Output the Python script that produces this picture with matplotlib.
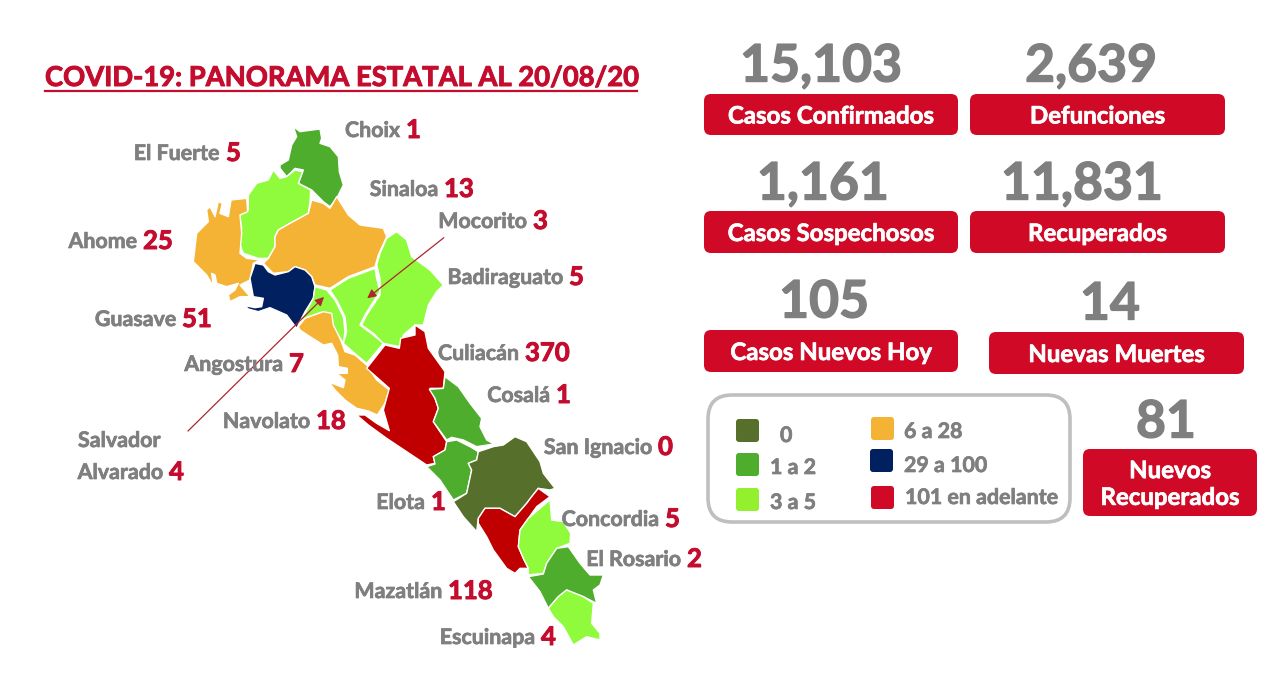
import matplotlib
matplotlib.use('Agg')
import matplotlib.pyplot as plt
import matplotlib.patheffects as pe
from matplotlib.patches import FancyBboxPatch, Polygon

plt.rcParams['font.family'] = ['Lato', 'DejaVu Sans']

GRAY = '#7f7f7f'
RED = '#c40d2e'
CARD = '#d00a26'

C_ZERO = '#566f2a'
C_LOW = '#4ead2d'
C_MID = '#8ffb3c'
C_ORANGE = '#f5b335'
C_NAVY = '#002060'
C_RED = '#c00000'

# municipal labels: name, cases, x where the name ends, y
names = ['Choix', 'El Fuerte', 'Sinaloa', 'Mocorito', 'Ahome', 'Badiraguato', 'Guasave',
         'Angostura', 'Culiacán', 'Cosalá', 'Navolato', 'Alvarado', 'San Ignacio', 'Elota',
         'Concordia', 'El Rosario', 'Mazatlán', 'Escuinapa']
cases = [1, 5, 13, 3, 25, 5, 51, 7, 370, 1, 18, 4, 0, 1, 5, 2, 118, 4]
name_end = [400, 220, 438, 527, 137, 563, 176, 283, 519, 550, 310, 163, 652, 425, 659, 681, 442, 535]
name_y = [131, 154, 190, 222, 242, 278, 320, 365, 354, 396, 422, 473, 448, 503, 520, 560, 592, 638]

# state totals
stat_values = ['15,103', '2,639', '1,161', '11,831', '105', '14', '81']
stat_labels = ['Casos Confirmados', 'Defunciones', 'Casos Sospechosos', 'Recuperados',
               'Casos Nuevos Hoy', 'Nuevas Muertes', 'Nuevos\nRecuperados']
stat_x = [821, 1091, 823, 1082, 824, 1110, 1166]
stat_y = [67, 67, 185, 185, 303, 305, 423]
card_x0 = [704, 970, 704, 970, 704, 989, 1083]
card_x1 = [958, 1225, 958, 1225, 958, 1244, 1257]
card_y0 = [94, 94, 211, 211, 330, 332, 449]
card_y1 = [135, 135, 253, 253, 372, 374, 516]

legend_labels = ['0', '1 a 2', '3 a 5', '6 a 28', '29 a 100', '101 en adelante']
legend_colors = [C_ZERO, C_LOW, '#93f02e', C_ORANGE, C_NAVY, CARD]
legend_box_x = [736, 736, 736, 871, 870, 871]
legend_box_y = [419, 453, 488, 417, 449, 486]
legend_text_x = [780, 770, 770, 904, 904, 905]
legend_text_y = [436, 468, 503, 432, 466, 498]

# outlines, each in the coords of its own 3x crop
choix = [(340,35),(360,50),(420,42),(425,70),(420,85),(450,95),(475,125),(478,170),(490,210),(470,250),
         (450,275),(430,260),(395,225),(355,205),(370,165),(345,160),(320,185),(300,160),(300,150),
         (325,135),(335,90),(350,65)]
fuerte = [(280,165),(300,190),(320,185),(345,165),(368,170),(355,205),(392,225),(390,260),(385,295),
          (330,325),(295,345),(285,365),(285,395),(265,430),(235,430),(190,415),(178,385),(185,340),
          (178,300),(205,285),(205,240),(230,205),(265,195)]
ahome = [(25,215),(35,130),(70,95),(65,60),(75,50),(90,80),(100,35),(112,40),(105,70),(130,80),(138,30),
         (185,25),(188,65),(165,75),(170,130),(165,190),(185,205),(225,210),(205,220),(195,270),(185,275),
         (165,285),(195,320),(165,320),(135,335),(130,315),(150,300),(160,280),(125,290),(95,280),(90,255),
         (80,250),(85,290),(65,255),(45,235)]
sinaloa = [(395,255),(430,265),(450,280),(470,245),(505,300),(540,330),(610,340),(620,365),(595,420),
           (585,455),(505,485),(450,520),(405,510),(395,485),(375,465),(345,455),(325,470),(280,475),
           (250,445),(265,430),(285,395),(285,365),(295,345),(330,325),(385,295)]
guasave = [(225,445),(250,450),(265,470),(285,480),(325,470),(345,455),(375,465),(395,485),(405,515),
           (400,550),(375,590),(350,640),(320,600),(270,578),(235,590),(205,582),(195,572),(225,578),
           (245,575),(250,550),(220,545),(210,490)]
angostura = [(405,515),(440,525),(465,555),(490,605),(495,650),(490,685),(450,620),(430,590),(385,605),
             (360,620),(378,590),(400,550)]
mocorito = [(450,525),(505,490),(585,460),(590,490),(600,530),(580,560),(555,600),(540,630),(580,660),
            (610,685),(560,745),(530,720),(490,685),(500,650),(495,605),(470,555)]
badiraguato = [(650,350),(680,375),(695,425),(750,465),(790,510),(770,530),(745,570),(730,630),(705,630),
               (670,660),(660,695),(610,685),(580,655),(545,630),(560,600),(600,540),(600,490),(590,450),
               (600,415),(620,370)]
navolato = [(25,65),(45,40),(100,20),(125,25),(130,60),(150,100),(165,140),(195,150),(230,180),(260,225),
            (298,255),(285,295),(262,330),(235,318),(200,310),(165,285),(135,255),(118,232),(135,238),
            (160,248),(165,225),(140,205),(172,205),(172,190),(145,185),(143,150),(125,115),(100,120),
            (60,95),(30,75)]
culiacan = [(255,15),(285,35),(295,85),(345,155),(340,205),(300,205),(315,235),(325,265),(310,305),
            (350,365),(345,390),(310,410),(315,430),(290,435),(230,395),(170,355),(115,315),(80,285),
            (105,285),(140,310),(178,332),(160,270),(178,205),(110,145),(165,75),(208,85),(212,55),(255,45)]
cosala = [(345,170),(385,200),(420,250),(455,295),(450,320),(470,360),(492,372),(440,380),(400,360),
          (365,352),(350,360),(310,305),(325,265),(315,235),(298,208),(340,205)]
elota = [(350,365),(380,360),(420,380),(445,395),(440,420),(415,430),(425,450),(410,520),(370,540),
         (330,480),(290,440),(315,432),(310,410),(345,390)]
san_ignacio = [(445,395),(490,380),(520,375),(555,350),(590,365),(630,425),(640,460),(675,505),(660,510),
               (625,505),(605,530),(590,550),(555,590),(510,565),(465,565),(445,595),(440,635),(400,590),
               (370,545),(410,520),(425,450),(415,430),(440,420)]
mazatlan = [(625,505),(660,530),(620,560),(595,595),(570,630),(565,680),(580,715),(595,745),(570,745),
            (555,760),(530,745),(490,690),(470,650),(445,610),(445,595),(465,565),(510,565),(555,590),
            (590,550),(605,530)]
concordia = [(660,540),(665,600),(700,605),(722,640),(720,670),(680,685),(650,730),(640,760),(595,765),
             (595,745),(580,715),(565,680),(570,630),(595,595),(630,565)]
rosario = [(680,685),(715,680),(750,730),(780,765),(820,765),(810,795),(790,810),(800,850),(760,830),
           (710,810),(685,830),(655,865),(630,815),(595,770),(640,762),(650,730)]
escuinapa = [(655,865),(685,830),(710,810),(760,830),(790,850),(785,910),(810,940),(810,960),(770,950),
             (730,975),(700,920),(670,890)]


def crop(pts, x0, y0):
    return [(x0 + x / 3, y0 + y / 3) for x, y in pts]


NORTH = (180, 115)
SOUTH = (330, 320)
shapes = [
    (crop(choix, *NORTH), C_LOW), (crop(fuerte, *NORTH), C_MID), (crop(ahome, 185, 190), C_ORANGE),
    (crop(sinaloa, *NORTH), C_ORANGE), (crop(guasave, *NORTH), C_NAVY), (crop(angostura, *NORTH), C_MID),
    (crop(mocorito, *NORTH), C_MID), (crop(badiraguato, *NORTH), C_MID), (crop(navolato, 290, 305), C_ORANGE),
    (crop(culiacan, *SOUTH), C_RED), (crop(cosala, *SOUTH), C_LOW), (crop(elota, *SOUTH), C_LOW),
    (crop(san_ignacio, *SOUTH), C_ZERO), (crop(mazatlan, *SOUTH), C_RED), (crop(concordia, *SOUTH), C_MID),
    (crop(rosario, *SOUTH), C_LOW), (crop(escuinapa, *SOUTH), C_MID),
]

fig = plt.figure(figsize=(12.8, 6.77), dpi=100)
ax = fig.add_axes([0, 0, 1, 1])
ax.set_xlim(0, 1280)
ax.set_ylim(677, 0)
ax.axis('off')


def put(x, y, s, color, size, ha='left', stroke=0.5, **kw):
    # small stroke because Lato bold is lighter than the font of the original
    t = ax.text(x, y, s, color=color, fontsize=size, fontweight='bold', ha=ha, va='center', **kw)
    t.set_path_effects([pe.withStroke(linewidth=stroke, foreground=color)])
    return t


for pts, col in shapes:
    ax.add_patch(Polygon(pts, closed=True, fc=col, ec='white', lw=1.0, joinstyle='round'))

# arrows into the small municipalities
for start, end in [((186, 433), (326, 295)), ((446, 236), (365, 300))]:
    ax.annotate('', xy=end, xytext=start,
                arrowprops=dict(arrowstyle='-|>', color='#b0262f', lw=0.9, mutation_scale=13))

# title
put(45, 78, 'COVID-19: PANORAMA ESTATAL AL 20/08/20', RED, 19.7, stroke=0.7)
ax.plot([45, 637], [91, 91], color=RED, lw=1.6)

# municipal labels
for name, n, xe, y in zip(names, cases, name_end, name_y):
    put(xe, y, name, GRAY, 15.4, ha='right')
    put(xe + 6, y - 1, str(n), RED, 18.5, stroke=0.7)
put(78, 441, 'Salvador', GRAY, 15.4)

# number cards
for val, lab, x, y, x0, x1, y0, y1 in zip(stat_values, stat_labels, stat_x, stat_y,
                                           card_x0, card_x1, card_y0, card_y1):
    put(x, y, val, GRAY, 37.2, ha='center', stroke=1.0)
    ax.add_patch(FancyBboxPatch((x0, y0), x1 - x0, y1 - y0, boxstyle='round,pad=0,rounding_size=7',
                                fc=CARD, ec='none'))
    put((x0 + x1) / 2, (y0 + y1) / 2 + 1.5, lab, 'white', 17.3, ha='center', linespacing=1.2)

# legend
ax.add_patch(FancyBboxPatch((708, 395), 362, 127, boxstyle='round,pad=0,rounding_size=24',
                            fc='white', ec='#bfbfbf', lw=2.6))
for lab, col, bx, by, tx, ty in zip(legend_labels, legend_colors, legend_box_x, legend_box_y,
                                     legend_text_x, legend_text_y):
    ax.add_patch(FancyBboxPatch((bx, by), 23, 23, boxstyle='round,pad=0,rounding_size=3', fc=col, ec='none'))
    put(tx, ty, lab, GRAY, 15.4)

fig.savefig('out.png', dpi=100, facecolor='white')
